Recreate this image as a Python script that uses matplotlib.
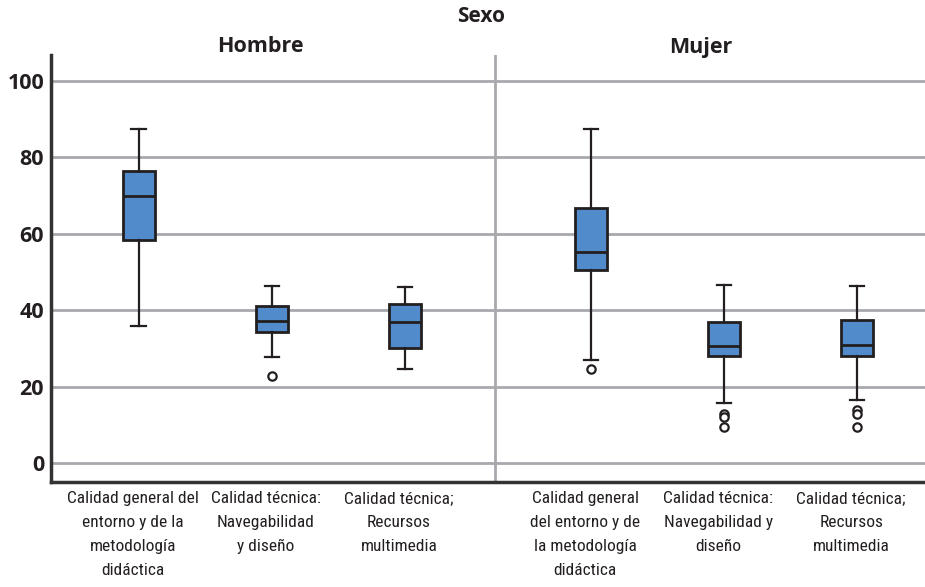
import matplotlib
matplotlib.use("Agg")
import matplotlib.pyplot as plt
import matplotlib.transforms as mtransforms

# ---- data (box stats per group) ----
labels_hombre = ["Calidad general del\nentorno y de la\nmetodología\ndidáctica",
                 "Calidad técnica:\nNavegabilidad\ny diseño",
                 "Calidad técnica;\nRecursos\nmultimedia"]
labels_mujer = ["Calidad general\ndel entorno y de\nla metodología\ndidáctica",
                "Calidad técnica:\nNavegabilidad y\ndiseño",
                "Calidad técnica;\nRecursos\nmultimedia"]

whislo_h = [35.9, 27.7, 24.6]
q1_h = [58.3, 34.2, 30.0]
med_h = [70.0, 37.2, 37.0]
q3_h = [76.4, 41.1, 41.5]
whishi_h = [87.4, 46.3, 46.2]
fliers_h = [[], [22.7], []]

whislo_m = [27.0, 15.7, 16.5]
q1_m = [50.5, 28.0, 28.0]
med_m = [55.3, 30.5, 30.9]
q3_m = [66.7, 36.9, 37.4]
whishi_m = [87.3, 46.5, 46.3]
fliers_m = [[24.7], [12.8, 12.0, 9.5], [13.9, 12.8, 9.5]]

yticks = [0, 20, 40, 60, 80, 100]

pos_h = [1, 2, 3]
pos_m = [4.4, 5.4, 6.4]
divider = 3.68

ink = "#231F20"
grid_c = "#A7A9AC"
blue = "#528BCB"

stats = []
for lo, a, m, b, hi, fl in zip(whislo_h + whislo_m, q1_h + q1_m, med_h + med_m,
                              q3_h + q3_m, whishi_h + whishi_m, fliers_h + fliers_m):
    stats.append(dict(whislo=lo, q1=a, med=m, q3=b, whishi=hi, fliers=fl))

fig = plt.figure(figsize=(9.25, 5.87), dpi=100)
ax = fig.add_axes([51 / 925, (587 - 482.3) / 587, 1 - 51 / 925, (482.3 - 55) / 587])

ax.bxp(stats, positions=pos_h + pos_m, widths=0.24, patch_artist=True,
       capwidths=0.11,
       boxprops=dict(facecolor=blue, edgecolor=ink, linewidth=2.0),
       medianprops=dict(color=ink, linewidth=2.0),
       whiskerprops=dict(color=ink, linewidth=1.6),
       capprops=dict(color=ink, linewidth=1.6),
       flierprops=dict(marker="o", markersize=6, markerfacecolor="white",
                       markeredgecolor=ink, markeredgewidth=1.6),
       zorder=3)

ax.set_xlim(0.34, 6.91)
ax.set_ylim(-5.05, 106.8)
ax.set_yticks(yticks)
for y in yticks:
    ax.axhline(y, color=grid_c, linewidth=2, zorder=1)
ax.axvline(divider, color=grid_c, linewidth=2, zorder=1)

for s in ["top", "right"]:
    ax.spines[s].set_visible(False)
for s in ["left", "bottom"]:
    ax.spines[s].set_color("#333333")
    ax.spines[s].set_linewidth(2.5)

ax.tick_params(axis="y", length=0, pad=5, labelcolor=ink)
ax.tick_params(axis="x", length=0, pad=6)
for t in ax.get_yticklabels():
    t.set_fontfamily("Open Sans")
    t.set_fontweight("bold")
    t.set_fontsize(15.5)

ax.set_xticks(pos_h + pos_m)
ax.set_xticklabels(labels_hombre + labels_mujer, fontsize=12.5, color=ink,
                   linespacing=1.75, family=["Roboto Condensed", "DejaVu Sans"])
offset = mtransforms.ScaledTranslation(-0.06, 0, fig.dpi_scale_trans)
for t in ax.get_xticklabels():
    t.set_transform(t.get_transform() + offset)

fig.text(481 / 925, 1 - 17 / 587, "Sexo", ha="center", va="center",
         fontsize=15, fontweight="bold", family="Open Sans", color=ink)
fig.text(260 / 925, 1 - 47 / 587, "Hombre", ha="center", va="center",
         fontsize=15.5, fontweight="bold", family="Open Sans", color=ink)
fig.text(701 / 925, 1 - 47 / 587, "Mujer", ha="center", va="center",
         fontsize=15.5, fontweight="bold", family="Open Sans", color=ink)

fig.savefig("out.png", dpi=100)
